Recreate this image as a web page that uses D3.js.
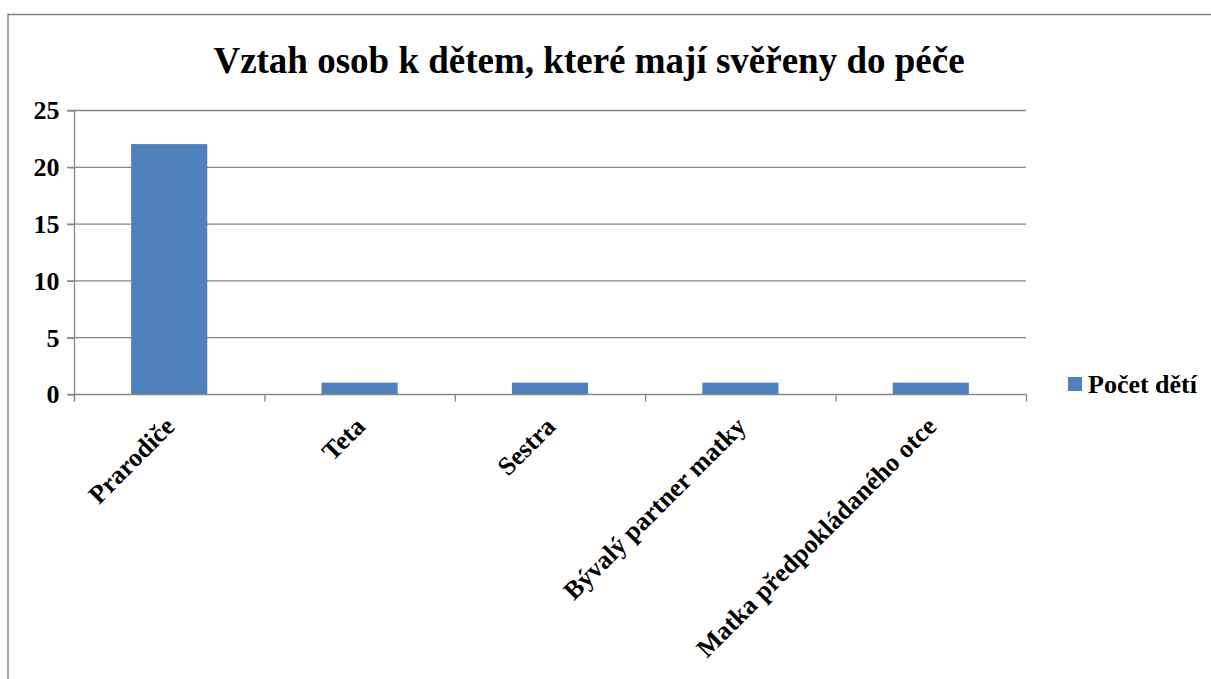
<!DOCTYPE html>
<html>
<head>
<meta charset="utf-8">
<script src="https://cdn.jsdelivr.net/npm/d3@7"></script>
<style>
  body { margin: 0; background: #fff; }
</style>
</head>
<body>
<script>
const categories = ["Prarodiče", "Teta", "Sestra", "Bývalý partner matky", "Matka předpokládaného otce"];
const values = [22, 1, 1, 1, 1];
const yTicks = [0, 5, 10, 15, 20, 25];
const seriesName = "Počet dětí";
const title = "Vztah osob k dětem, které mají svěřeny do péče";

const width = 1211;
const height = 679;
const margins = { top: 110, bottom: 285, left: 74, right: 185 };
const font = "'Liberation Serif', 'Times New Roman', serif";
const gray = '#878787';
const barColor = '#4F81BD';

const svg = d3.create('svg')
  .attr('width', width)
  .attr('height', height);

// chart border
svg.append('path')
  .attr('d', `M8,${height} V14.5 H${width}`)
  .attr('fill', 'none')
  .attr('stroke', gray)
  .attr('stroke-width', 1.5);

const xScale = d3.scaleBand(categories, [margins.left, width - margins.right])
  .paddingInner(0.6)
  .paddingOuter(0.3);
const yScale = d3.scaleLinear([0, 25], [height - margins.bottom, margins.top]);

// gridlines
svg.append('g')
  .selectAll('line')
  .data(yTicks.filter(d => d > 0))
  .join('line')
  .attr('x1', margins.left - 7)
  .attr('x2', width - margins.right)
  .attr('y1', d => yScale(d) + 0.5)
  .attr('y2', d => yScale(d) + 0.5)
  .attr('stroke', gray)
  .attr('stroke-width', 1.3);

// bars
svg.append('g')
  .selectAll('rect')
  .data(values)
  .join('rect')
  .attr('x', (d, i) => xScale(categories[i]))
  .attr('y', d => yScale(d))
  .attr('width', xScale.bandwidth())
  .attr('height', d => yScale(0) - yScale(d))
  .attr('fill', barColor);

// y axis
const yAxis = d3.axisLeft(yScale)
  .tickValues(yTicks)
  .tickSize(7)
  .tickSizeOuter(0)
  .tickPadding(8);

const yg = svg.append('g')
  .attr('transform', `translate(${margins.left + 0.5},0.5)`)
  .call(yAxis);
yg.select('.domain').attr('stroke', gray).attr('stroke-width', 1.3)
  .attr('d', `M0,${yScale(25)}V${yScale(0) + 7}`);
yg.selectAll('.tick line').attr('stroke', gray).attr('stroke-width', 1.3);
yg.selectAll('.tick text')
  .attr('font-family', font)
  .attr('font-weight', 'bold')
  .attr('font-size', 26)
  .attr('fill', '#000');

// x axis: ticks at category boundaries
const boundaries = d3.range(categories.length + 1).map(i => margins.left + i * (width - margins.left - margins.right) / categories.length);
const xg = svg.append('g').attr('transform', 'translate(0.5,0.5)');
xg.append('line')
  .attr('x1', margins.left - 7)
  .attr('x2', width - margins.right)
  .attr('y1', yScale(0))
  .attr('y2', yScale(0))
  .attr('stroke', gray)
  .attr('stroke-width', 1.3);
xg.selectAll('.xt')
  .data(boundaries)
  .join('line')
  .attr('class', 'xt')
  .attr('x1', d => d)
  .attr('x2', d => d)
  .attr('y1', yScale(0))
  .attr('y2', yScale(0) + 7)
  .attr('stroke', gray)
  .attr('stroke-width', 1.3);

// x labels rotated
svg.append('g')
  .selectAll('text')
  .data(categories)
  .join('text')
  .attr('transform', d => `translate(${xScale(d) + xScale.bandwidth() / 2 + 7},${yScale(0) + 34}) rotate(-45)`)
  .attr('text-anchor', 'end')
  .attr('font-family', font)
  .attr('font-weight', 'bold')
  .attr('font-size', 26)
  .text(d => d);

// title
svg.append('text')
  .text(title)
  .attr('x', 589)
  .attr('y', 73)
  .attr('text-anchor', 'middle')
  .attr('font-family', font)
  .attr('font-weight', 'bold')
  .attr('font-size', 37);

// legend
const legend = svg.append('g').attr('transform', 'translate(1068,377)');
legend.append('rect')
  .attr('width', 14)
  .attr('height', 14)
  .attr('fill', barColor);
legend.append('text')
  .text(seriesName)
  .attr('x', 20)
  .attr('y', 16)
  .attr('font-family', font)
  .attr('font-weight', 'bold')
  .attr('font-size', 26);

document.body.append(svg.node());
</script>
</body>
</html>
